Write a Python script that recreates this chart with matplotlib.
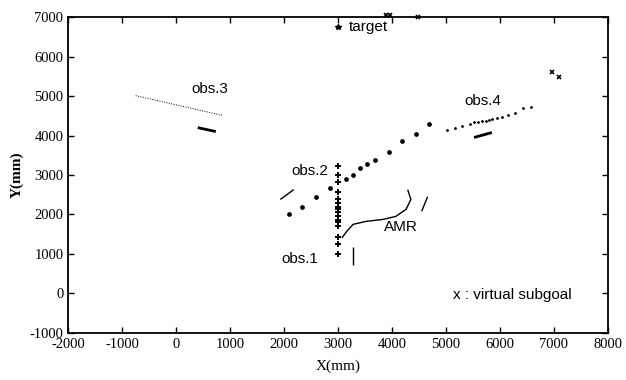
import matplotlib
matplotlib.use("Agg")
import matplotlib.pyplot as plt

plt.rcParams["axes.unicode_minus"] = False

# ---- data (mm) ----
obs1_x = [3000] * 16
obs1_y = [3240, 3010, 2810, 2560, 2380, 2300, 2200, 2130, 2050, 1950, 1870, 1800, 1700, 1440, 1240, 1010]

obs2_x = [2090, 2330, 2590, 2860, 3140, 3280, 3410, 3540, 3690, 3945, 4180, 4440, 4680]
obs2_y = [2000, 2200, 2430, 2660, 2890, 3010, 3165, 3290, 3390, 3595, 3850, 4050, 4280]

obs3_x = [-750, 860]
obs3_y = [5010, 4510]

obs4_x = [5010, 5160, 5300, 5450, 5520, 5600, 5670, 5740, 5800, 5850, 5945, 6040, 6150, 6275, 6420, 6570]
obs4_y = [4130, 4180, 4230, 4300, 4330, 4355, 4380, 4380, 4405, 4430, 4455, 4480, 4530, 4580, 4685, 4735]

amr_x = [3080, 3160, 3280, 3520, 3835, 4070, 4260, 4350, 4295]
amr_y = [1420, 1570, 1750, 1825, 1875, 1950, 2130, 2380, 2610]

subgoal_x = [3880, 3960, 4480, 6970, 7100]
subgoal_y = [7060, 7060, 6990, 5600, 5490]

target_x = [3000]
target_y = [6760]

# direction arrows (start, end)
arrows = {
    "obs1": ([3280, 3280], [1170, 730]),
    "obs2": ([1930, 2180], [2380, 2630]),
    "obs3": ([400, 735], [4200, 4100]),
    "obs4": ([5520, 5850], [3950, 4075]),
    "amr":  ([4550, 4660], [2080, 2450]),
}

labels = {
    "obs.3": (620, 5190),
    "obs.2": (2470, 3110),
    "obs.1": (2290, 870),
    "AMR": (4170, 1670),
    "obs.4": (5690, 4880),
}

xticks = [-2000, -1000, 0, 1000, 2000, 3000, 4000, 5000, 6000, 7000, 8000]
yticks = [-1000, 0, 1000, 2000, 3000, 4000, 5000, 6000, 7000]

# ---- figure ----
fig = plt.figure(figsize=(6.26, 3.80), dpi=100)
ax = fig.add_axes([0.109, 0.124, 0.862, 0.831])

serif = "Liberation Serif"
sans = "Liberation Sans"

ax.plot(obs1_x, obs1_y, linestyle="none", marker="+", color="black",
        markersize=5, markeredgewidth=1.4)
ax.plot(obs2_x, obs2_y, linestyle="none", marker="o", color="black",
        markersize=2.4)
ax.plot(obs4_x, obs4_y, linestyle="none", marker="o", color="black",
        markersize=1.0)
ax.plot(obs3_x, obs3_y, linestyle=(0, (1, 1.5)), color="black", linewidth=0.7)
ax.plot(amr_x, amr_y, color="black", linewidth=1.0)
ax.plot(subgoal_x, subgoal_y, linestyle="none", marker="x", color="black",
        markersize=3.2, markeredgewidth=1.2, clip_on=False)
ax.plot(target_x, target_y, linestyle="none", marker="*", color="black",
        markersize=4)
ax.text(target_x[0] + 200, target_y[0], "target", fontsize=11, family=sans,
        va="center", ha="left")

for k, (xs, ys) in arrows.items():
    lw = 2.0 if k in ("obs3", "obs4") else 1.0
    ax.plot(xs, ys, color="black", linewidth=lw, solid_capstyle="butt")

for t, (x, y) in labels.items():
    ax.text(x, y, t, fontsize=11, family=sans, ha="center", va="center")

ax.text(5130, -40, "x : virtual subgoal", fontsize=11, family=sans,
        ha="left", va="center")

ax.set_xlim(-2000, 8000)
ax.set_ylim(-1000, 7000)
ax.set_xticks(xticks)
ax.set_yticks(yticks)
ax.tick_params(direction="in", top=True, right=True, length=4, width=1,
               labelsize=10.5)
for lab in ax.get_xticklabels() + ax.get_yticklabels():
    lab.set_family(serif)
for s in ax.spines.values():
    s.set_linewidth(1.3)

ax.set_xlabel("X(mm)", family=serif, fontsize=11, labelpad=6)
ax.set_ylabel("Y(mm)", family=serif, fontsize=11, fontweight="bold", labelpad=4)

fig.savefig("out.png", dpi=100)
